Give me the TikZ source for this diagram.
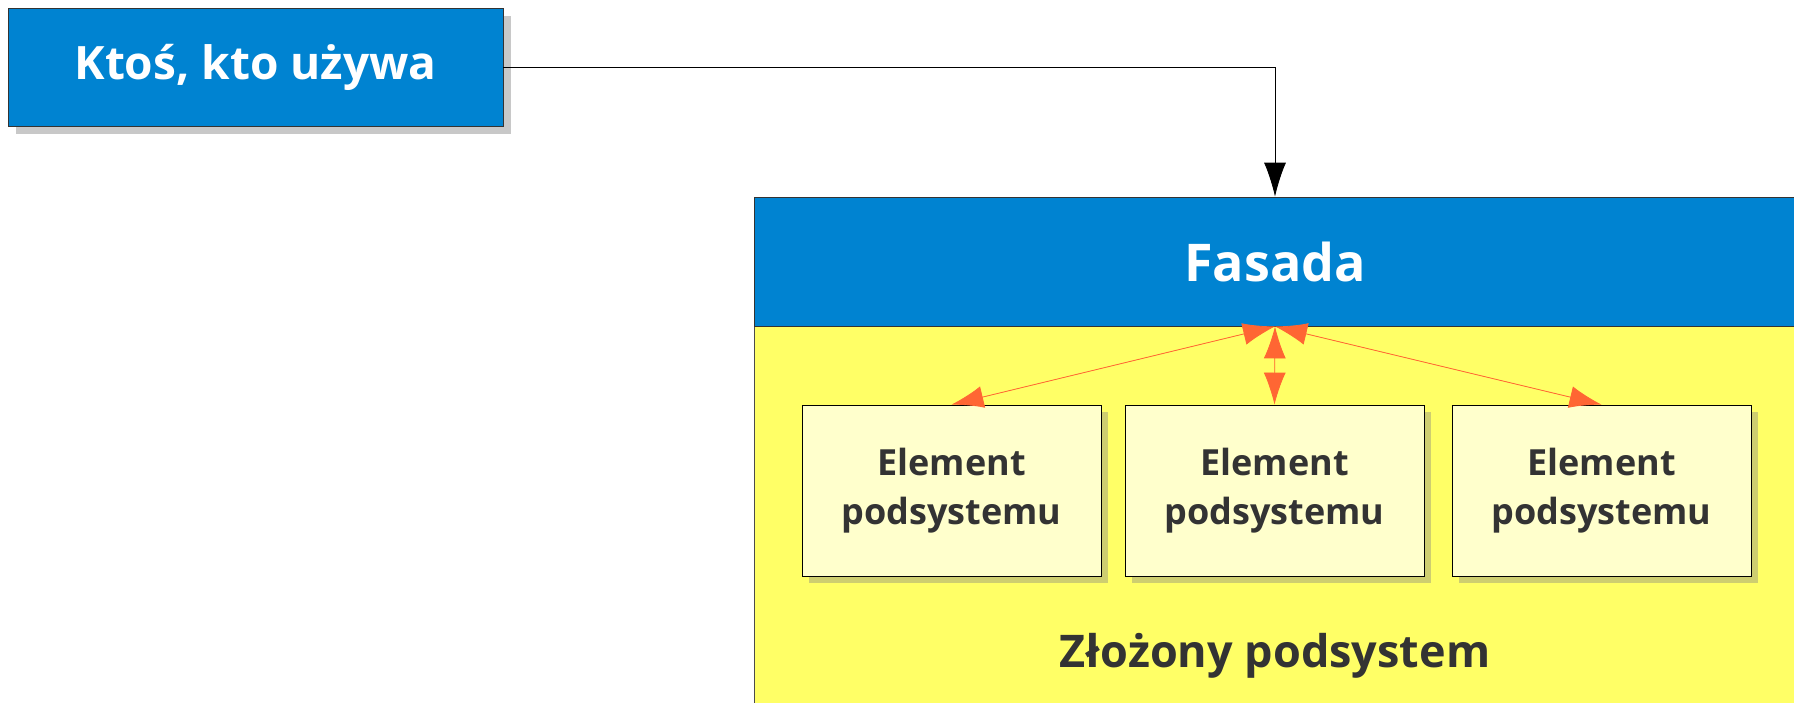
\documentclass[tikz,border=0pt]{standalone}
\usepackage{fontspec}
\setmainfont{Open Sans}
\usetikzlibrary{arrows.meta,shadows}

\definecolor{fasadablue}{RGB}{0,131,209}
\definecolor{subyellow}{RGB}{255,255,102}
\definecolor{elemfill}{RGB}{255,255,204}
\definecolor{elemshadow}{RGB}{206,206,112}
\definecolor{usershadow}{RGB}{200,200,200}
\definecolor{linkorange}{RGB}{255,102,51}
\definecolor{textgrey}{RGB}{51,51,51}

\tikzstyle{bluebox} = [rectangle,draw=black!80,fill=fasadablue,text=white,inner sep=0pt]
\tikzstyle{subsys} = [rectangle,draw=black!70,fill=subyellow,inner sep=0pt]
\tikzstyle{element} = [rectangle,draw=black,fill=elemfill,text=textgrey,align=center,inner sep=0pt,
  minimum width=149.5pt,minimum height=85.5pt,font=\bfseries\fontsize{18}{24.5}\selectfont,
  drop shadow={shadow xshift=3.5pt,shadow yshift=-3.5pt,fill=elemshadow,opacity=1}]
\tikzstyle{usearrow} = [-{Latex[length=17pt,width=11pt]},thin]
\tikzstyle{linkarrow} = [{Latex[length=16pt,width=11pt]}-{Latex[length=16pt,width=11pt]},draw=linkorange,fill=linkorange,thin]

\begin{document}
\begin{tikzpicture}[x=0.5pt,y=-0.5pt]
      \clip (0,0) rectangle (1794,702);
      %% boxes
      \node[bluebox, minimum width=247.5pt, minimum height=59pt,
        font=\bfseries\fontsize{23}{28}\selectfont,
        drop shadow={shadow xshift=4pt,shadow yshift=-4pt,fill=usershadow,opacity=1}]
        (user) at (255.5,67) {Ktoś, kto używa};
      \node[subsys, minimum width=521pt, minimum height=220pt, anchor=north] (podsystem) at (1275,326) {};
      \node[bluebox, minimum width=521pt, minimum height=64.5pt,
        font=\bfseries\fontsize{26}{32}\selectfont] (fasada) at (1275,261.5) {Fasada};
      \node[text=textgrey, font=\bfseries\fontsize{22.5}{28}\selectfont] (label) at (1275,656) {Złożony podsystem};

      \foreach \nodename/\x in {e1/951.5, e2/1274.5, e3/1601.5}
      {
        \node[element] (\nodename) at (\x,490.5) {Element\\podsystemu};
      }
      % edges or lines
      \draw[usearrow] (user.east) -| (fasada.north);
      \foreach \endnode in {e1, e2, e3}
      {
        \draw[linkarrow] (fasada.south) -- (\endnode.north);
      }
    \end{tikzpicture}
\end{document}
